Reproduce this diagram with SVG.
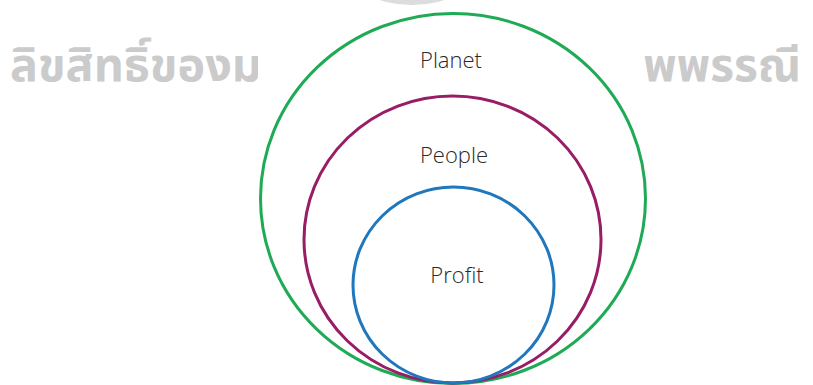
<svg xmlns="http://www.w3.org/2000/svg" width="813" height="385" viewBox="0 0 813 385">
<style>
.wm{font-family:"Noto Sans Thai","Loma","Garuda","DejaVu Sans","Noto Sans",sans-serif;font-weight:bold;font-size:46px;fill:#cbcbcb}
.lbl{font-family:"Open Sans","Noto Sans",sans-serif;font-weight:300;font-size:22px;fill:#2a2a2a;text-anchor:middle}
.ring{fill:none;stroke-width:3}
</style>
<rect width="813" height="385" fill="#fff"/>
<g id="watermark">
<ellipse cx="412" cy="-32" rx="64" ry="37" fill="#dcdcdc"/>
<text class="wm" x="10" y="81" textLength="252" lengthAdjust="spacingAndGlyphs">ลิขสิทธิ์ของม</text>
<rect x="258" y="30" width="20" height="60" fill="#fff"/>
<text class="wm" x="801" y="81" text-anchor="end">พพรรณี</text>
</g>
<g id="planet">
<ellipse class="ring" cx="453" cy="198.5" rx="192.5" ry="185" stroke="#1faa55"/>
<text class="lbl" x="451" y="68">Planet</text>
</g>
<g id="people">
<ellipse class="ring" cx="452.5" cy="239.5" rx="148.5" ry="143.5" stroke="#981c66"/>
<text class="lbl" x="454" y="163">People</text>
</g>
<g id="profit">
<ellipse class="ring" cx="453.5" cy="285" rx="100.5" ry="98" stroke="#1f77bd"/>
<text class="lbl" x="457" y="283">Profit</text>
</g>
<g id="connectors"/>
</svg>
